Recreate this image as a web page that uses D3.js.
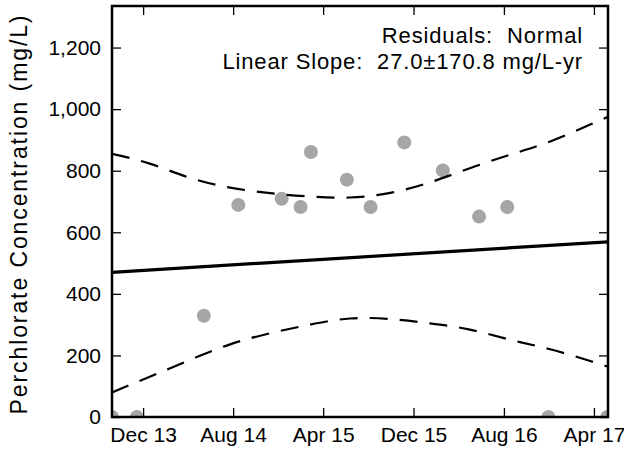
<!DOCTYPE html>
<html><head><meta charset="utf-8">
<script src="https://cdn.jsdelivr.net/npm/d3@7"></script>
<style>
html,body{margin:0;padding:0;background:#fff;}
svg{display:block;font-family:"Liberation Sans",Arial,sans-serif;}
</style></head>
<body><svg id="c" width="624" height="450"></svg>
<script>
// ---- data ----
const sampleDates = ["2013-09-08","2013-11-14","2014-05-14","2014-08-15","2014-12-10","2015-01-30","2015-02-27","2015-06-04","2015-08-07","2015-11-06","2016-02-18","2016-05-26","2016-08-10","2016-11-29","2017-05-07"];
const sampleValues = [0, 0, 329, 689, 709, 682, 861, 771, 682, 892, 801, 651, 682, 0, 0];

const fitDates = ["2013-09-08","2017-05-09"];
const fitValues = [470, 569];

const bandDates = ["2013-09-08","2013-12-19","2014-04-06","2014-07-24","2014-11-09","2015-02-24","2015-06-12","2015-09-29","2016-01-14","2016-05-01","2016-08-18","2016-12-04","2017-03-22","2017-05-09"];
const bandUpper = [855, 823, 777, 745, 727, 716, 713, 728, 762, 808, 852, 895, 950, 975];
const bandLower = [80, 131, 185, 236, 272, 300, 320, 318, 304, 284, 251, 220, 182, 163];

const xTickDates = ["2013-12-01","2014-08-01","2015-04-01","2015-12-01","2016-08-01","2017-04-01"];
const xTickLabels = ["Dec 13","Aug 14","Apr 15","Dec 15","Aug 16","Apr 17"];
const yTicks = [0, 200, 400, 600, 800, 1000, 1200];

const yLabel = "Perchlorate Concentration (mg/L)";
const noteLines = ["Residuals:  Normal", "Linear Slope:  27.0\u00b1170.8 mg/L-yr"];

// ---- layout ----
const parse = d3.utcParse("%Y-%m-%d");
const L = 112, R = 608, T = 6, B = 417;
const svg = d3.select("#c");

const x = d3.scaleUtc().domain([parse("2013-09-08"), parse("2017-05-09")]).range([L, R]);
const y = d3.scaleLinear().domain([0, 1335]).range([B, T]);

svg.append("defs").append("clipPath").attr("id","clip")
  .append("rect").attr("x",L).attr("y",T).attr("width",R-L).attr("height",B-T);

const plot = svg.append("g").attr("clip-path","url(#clip)");

// points
plot.selectAll("circle").data(sampleDates.map((d,i)=>({d:parse(d),v:sampleValues[i]})))
  .join("circle")
  .attr("cx", d=>x(d.d)).attr("cy", d=>y(d.v)).attr("r", 7)
  .attr("fill", "#a6a6a6");

// fit line
const line = d3.line().x(d=>x(d.d)).y(d=>y(d.v));
plot.append("path")
  .datum(fitDates.map((d,i)=>({d:parse(d),v:fitValues[i]})))
  .attr("d", line).attr("fill","none").attr("stroke","#000").attr("stroke-width",3.2);

// confidence band
const curved = d3.line().x(d=>x(d.d)).y(d=>y(d.v)).curve(d3.curveNatural);
[bandUpper, bandLower].forEach(arr=>{
  plot.append("path")
    .datum(bandDates.map((d,i)=>({d:parse(d),v:arr[i]})))
    .attr("d", curved).attr("fill","none").attr("stroke","#000")
    .attr("stroke-width",2.2).attr("stroke-dasharray","18,12");
});

// axes (ticks inward on all sides)
const xTickVals = xTickDates.map(parse);
const fmtX = d => xTickLabels[xTickVals.findIndex(t=>+t===+d)];
const gxb = svg.append("g").attr("transform",`translate(0,${B})`)
  .call(d3.axisBottom(x).tickValues(xTickVals).tickFormat(fmtX).tickSizeInner(-9).tickSizeOuter(0).tickPadding(10));
const gxt = svg.append("g").attr("transform",`translate(0,${T})`)
  .call(d3.axisTop(x).tickValues(xTickVals).tickFormat("").tickSizeInner(-9).tickSizeOuter(0));
const gyl = svg.append("g").attr("transform",`translate(${L},0)`)
  .call(d3.axisLeft(y).tickValues(yTicks).tickFormat(d3.format(",")).tickSizeInner(-9).tickSizeOuter(0).tickPadding(11));
const gyr = svg.append("g").attr("transform",`translate(${R},0)`)
  .call(d3.axisRight(y).tickValues(yTicks).tickFormat("").tickSizeInner(-9).tickSizeOuter(0));

[gxb,gxt,gyl,gyr].forEach(g=>{
  g.select(".domain").remove();
  g.selectAll(".tick line").attr("stroke","#000").attr("stroke-width",1.3);
  g.selectAll(".tick text").attr("fill","#000").style("font-size","21px")
    .style("font-family",'"Liberation Sans",Arial,sans-serif');
});

// frame
svg.append("rect").attr("x",L).attr("y",T).attr("width",R-L).attr("height",B-T)
  .attr("fill","none").attr("stroke","#000").attr("stroke-width",2.5);

// y label
svg.append("text")
  .attr("transform",`translate(27,214) rotate(-90)`)
  .attr("text-anchor","middle")
  .style("font-size","23px").style("letter-spacing","1.9px")
  .text(yLabel);

// annotation
noteLines.forEach((t,i)=>{
  svg.append("text")
    .attr("x", 583).attr("y", 43 + i*26)
    .attr("text-anchor","end")
    .attr("xml:space","preserve")
    .style("white-space","pre")
    .style("font-size","22px").style("letter-spacing","0.85px")
    .text(t);
});
</script>
</body></html>
